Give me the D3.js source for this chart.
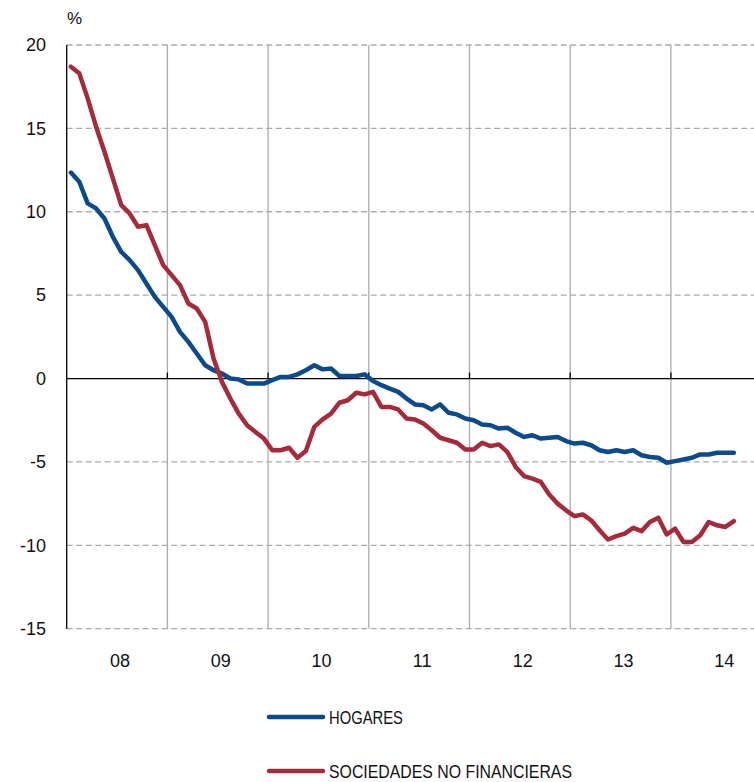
<!DOCTYPE html>
<html>
<head>
<meta charset="utf-8">
<script src="https://cdn.jsdelivr.net/npm/d3@7"></script>
<style>
  body { margin: 0; background: #fff; }
  svg text { font-family: "Liberation Sans", Arial, sans-serif; fill: #111; }
</style>
</head>
<body>
<svg id="chart" width="754" height="782"></svg>
<script>
// monthly series, Jan 2008 .. Aug 2014
const startYear = 2008;
const hogares = [
  12.35, 11.8, 10.5, 10.2, 9.6, 8.5, 7.6, 7.1, 6.5, 5.7, 4.9, 4.3,
  3.7, 2.8, 2.2, 1.5, 0.8, 0.5, 0.3, 0.0, -0.05, -0.3, -0.3, -0.3,
  -0.1, 0.1, 0.1, 0.25, 0.5, 0.8, 0.55, 0.6, 0.15, 0.15, 0.15, 0.25,
  -0.15, -0.4, -0.6, -0.8, -1.2, -1.55, -1.6, -1.85, -1.55, -2.05, -2.15, -2.4,
  -2.5, -2.75, -2.8, -3.0, -2.95, -3.25, -3.5, -3.4, -3.6, -3.55, -3.5, -3.75,
  -3.9, -3.85, -4.0, -4.3, -4.4, -4.3, -4.4, -4.3, -4.6, -4.7, -4.75, -5.05,
  -4.95, -4.85, -4.75, -4.55, -4.55, -4.45, -4.45, -4.45
];
const sociedades = [
  18.7, 18.3, 16.8, 15.1, 13.6, 12.0, 10.4, 9.9, 9.1, 9.2, 8.0, 6.8,
  6.2, 5.6, 4.5, 4.2, 3.4, 1.2, -0.2, -1.2, -2.1, -2.8, -3.2, -3.6,
  -4.3, -4.3, -4.15, -4.75, -4.35, -2.9, -2.45, -2.1, -1.45, -1.3, -0.85, -0.95,
  -0.8, -1.7, -1.7, -1.85, -2.4, -2.45, -2.7, -3.1, -3.55, -3.7, -3.85, -4.25,
  -4.25, -3.85, -4.05, -3.95, -4.4, -5.3, -5.85, -6.0, -6.2, -6.95, -7.5, -7.9,
  -8.25, -8.15, -8.5, -9.1, -9.65, -9.45, -9.3, -8.95, -9.15, -8.6, -8.35, -9.35,
  -9.0, -9.8, -9.8, -9.4, -8.6, -8.8, -8.9, -8.55
];
const yTicks = [20, 15, 10, 5, 0, -5, -10, -15];
const yearLabels = ["08", "09", "10", "11", "12", "13", "14"];
const seriesNames = ["HOGARES", "SOCIEDADES NO FINANCIERAS"];
const colors = ["#0b4a8b", "#a52a3b"];

const svg = d3.select("#chart");
const plotLeft = 66.7, plotTop = 45, plotBottom = 628.7, yearW = 100.7;

const x = d3.scaleLinear().domain([2008, 2015]).range([plotLeft, plotLeft + 7 * yearW]);
const y = d3.scaleLinear().domain([-15, 20]).range([plotBottom, plotTop]);

// horizontal dashed grid
svg.append("g").selectAll("line")
  .data(yTicks.filter(d => d != 0))
  .join("line")
    .attr("x1", plotLeft).attr("x2", 754)
    .attr("y1", d => y(d)).attr("y2", d => y(d))
    .attr("stroke", "#ababab").attr("stroke-width", 1.3)
    .attr("stroke-dasharray", "6,3.5");

// vertical year grid
svg.append("g").selectAll("line")
  .data(d3.range(2009, 2015))
  .join("line")
    .attr("x1", d => x(d)).attr("x2", d => x(d))
    .attr("y1", plotTop).attr("y2", plotBottom)
    .attr("stroke", "#ababab").attr("stroke-width", 1.3);

// zero line with small ticks
svg.append("line")
  .attr("x1", plotLeft).attr("x2", 754)
  .attr("y1", y(0)).attr("y2", y(0))
  .attr("stroke", "#000").attr("stroke-width", 1.3);
svg.append("g").selectAll("line")
  .data(d3.range(2009, 2015))
  .join("line")
    .attr("x1", d => x(d)).attr("x2", d => x(d))
    .attr("y1", y(0)).attr("y2", y(0) - 6)
    .attr("stroke", "#000").attr("stroke-width", 1.3);

// left axis
svg.append("line")
  .attr("x1", plotLeft).attr("x2", plotLeft)
  .attr("y1", plotTop).attr("y2", plotBottom)
  .attr("stroke", "#000").attr("stroke-width", 1.3);

// y labels
svg.append("g").selectAll("text")
  .data(yTicks)
  .join("text")
    .attr("x", 46).attr("y", d => y(d))
    .attr("dy", "0.35em")
    .attr("text-anchor", "end")
    .style("font-size", "18px")
    .text(d => d);

svg.append("text")
  .attr("x", 67).attr("y", 24)
  .style("font-size", "17px")
  .text("%");

// x labels
svg.append("g").selectAll("text")
  .data(yearLabels)
  .join("text")
    .attr("x", (d, i) => x(startYear + i + 0.53))
    .attr("y", 667)
    .attr("text-anchor", "middle")
    .style("font-size", "18px")
    .text(d => d);

// lines
const line = d3.line()
  .x((d, i) => x(startYear + (i + 0.5) / 12))
  .y(d => y(d));

[hogares, sociedades].forEach((s, k) => {
  svg.append("path")
    .datum(s)
    .attr("d", line)
    .attr("fill", "none")
    .attr("stroke", colors[k])
    .attr("stroke-width", 4.5)
    .attr("stroke-linejoin", "round")
    .attr("stroke-linecap", "round");
});

// legend (condensed caption font, squeezed with textLength)
const legendWidths = [74, 243];
const legend = svg.append("g").attr("class", "legend");
seriesNames.forEach((name, k) => {
  const ly = 717 + k * 54;
  legend.append("line")
    .attr("x1", 269).attr("x2", 323)
    .attr("y1", ly).attr("y2", ly)
    .attr("stroke", colors[k]).attr("stroke-width", 4.5)
    .attr("stroke-linecap", "round");
  legend.append("text")
    .attr("x", 329).attr("y", ly)
    .attr("dy", "0.36em")
    .attr("textLength", legendWidths[k])
    .attr("lengthAdjust", "spacingAndGlyphs")
    .style("font-size", "19px")
    .text(name);
});
</script>
</body>
</html>
